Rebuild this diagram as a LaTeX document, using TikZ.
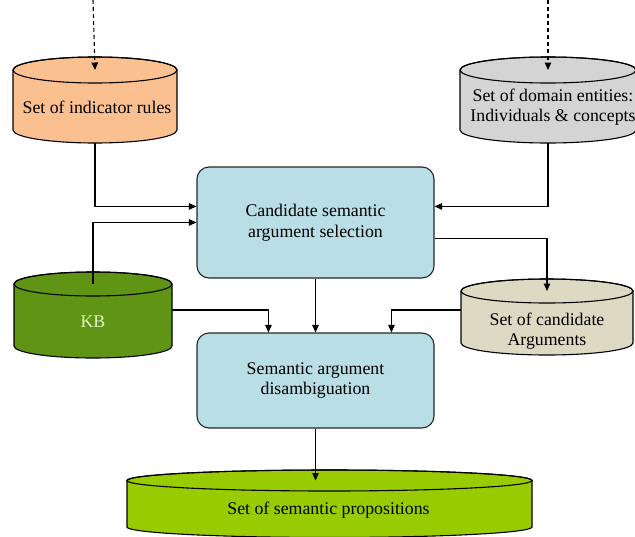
\documentclass[tikz,border=0pt]{standalone}
\usepackage{fontspec}
\setmainfont{Liberation Serif}
\usetikzlibrary{arrows.meta,calc}
\definecolor{peach}{HTML}{FAC090}
\definecolor{greyc}{HTML}{D4D4D4}
\definecolor{tanc}{HTML}{DDD9C3}
\definecolor{kbgreen}{HTML}{5F9414}
\definecolor{limec}{HTML}{99CC00}
\definecolor{boxblue}{HTML}{B9DEE5}
\definecolor{kbtext}{HTML}{E4F4C8}
\tikzset{
  box/.style={draw=black!85, line width=1.1pt, fill=boxblue, rounded corners=12pt, align=center},
  conn/.style={line width=1.1pt, -{Triangle[length=7.5pt,width=6.5pt]}},
  feed/.style={conn, dash pattern=on 4pt off 3pt},
  cyltext/.style={align=center},
}
% #1 name, #2 cx, #3 top-ellipse centre y, #4 bottom centre y, #5 rx, #6 ry, #7 fill
\newcommand\mycyl[7]{%
  \filldraw[fill=#7, draw=black, line width=1.1pt]
    (#2-#5,#3) -- (#2-#5,#4) arc[start angle=180,end angle=360,x radius=#5,y radius=#6]
    -- (#2+#5,#3) arc[start angle=0,end angle=180,x radius=#5,y radius=#6] -- cycle;
  \draw[line width=1.1pt] (#2,#3) ellipse [x radius=#5,y radius=#6];
  \coordinate (#1-top) at (#2,#3);
  \coordinate (#1-bot) at (#2,#4-#6);
}
\begin{document}
\begin{tikzpicture}[x=1pt,y=1pt,font=\fontsize{17.8}{20.5}\selectfont]
\useasboundingbox[fill=white] (0,0) rectangle (635,-536);
% cylinders
\mycyl{c1}{95}{-70}{-130}{82}{13}{peach}
\node[cyltext] (t1) at (97,-107) {Set of indicator rules};
\mycyl{c2}{548}{-70}{-130}{88}{13}{greyc}
\node[cyltext] (t2) at (553,-107) {Set of domain entities:\\Individuals \& concepts};
\mycyl{kb}{93}{-284}{-346}{79}{12}{kbgreen}
\node[cyltext, text=kbtext] (tkb) at (93,-322) {KB};
\mycyl{c3}{547}{-291}{-343}{86}{12}{tanc}
\node[cyltext] (t3) at (547,-331) {Set of candidate\\Arguments};
\mycyl{c4}{329.5}{-480.5}{-527}{202.5}{10.5}{limec}
\node[cyltext] (t4) at (328.5,-510) {Set of semantic propositions};
% boxes
\node[box, minimum width=237pt, minimum height=111pt] (b1) at (315.5,-222.5) {Candidate semantic\\argument selection};
\node[box, minimum width=237pt, minimum height=95pt] (b2) at (315.5,-380.5) {Semantic argument\\disambiguation};
% free ends
\coordinate (in1) at (93,0);
\coordinate (in2) at (548,0);
\coordinate (kbr) at (172,-310);
\coordinate (c3l) at (461,-310);
% connectors
\draw[feed] (in1) -- (c1-top);
\draw[feed] (in2) -- (c2-top);
\draw[conn] (c1-bot) |- ($(b1.north west)+(0,-40)$);
\draw[conn] (c2-bot) |- ($(b1.north east)+(0,-40)$);
\draw[conn] (kb-top) |- ($(b1.north west)+(0,-56)$);
\draw[conn] ($(b1.north east)+(0,-72)$) -| (c3-top);
\draw[conn] (b1.south) -- (b1.south |- b2.north);
\draw[conn] (kbr) -| ($(b2.north west)+(72,0)$);
\draw[conn] (c3l) -| ($(b2.north west)+(195,0)$);
\draw[conn] (b2.south) -- (b2.south |- c4-top);
\end{tikzpicture}
\end{document}
